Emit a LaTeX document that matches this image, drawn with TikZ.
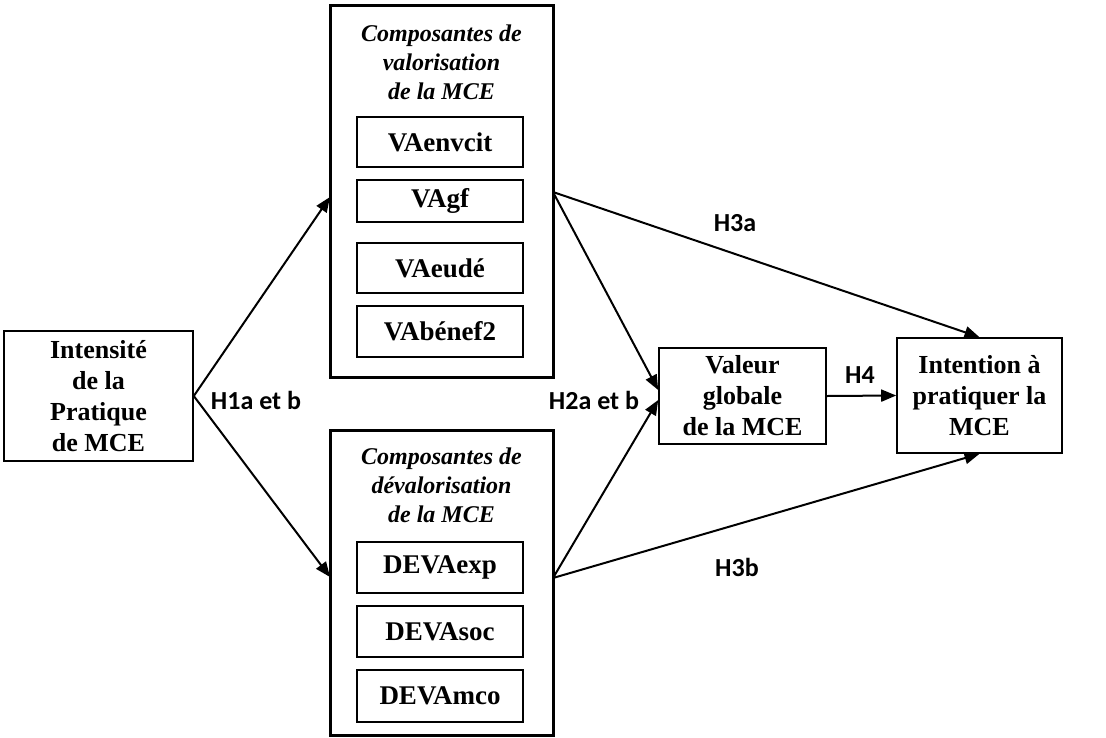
\documentclass[tikz,border=0pt]{standalone}
\usepackage{fontspec}
\setmainfont{Liberation Serif}
\newfontfamily\lblfont{Carlito}
\usetikzlibrary{arrows.meta}
\begin{document}
\begin{tikzpicture}[x=1pt,y=-1pt,
  box/.style={draw, line width=1.6pt, inner sep=0pt, align=center, font=\fontsize{26}{31}\selectfont\bfseries},
  group/.style={draw, line width=3pt, inner sep=0pt},
  inbox/.style={draw, line width=1.6pt, inner sep=0pt, minimum width=166pt, font=\fontsize{27}{30}\selectfont\bfseries},
  grptitle/.style={align=center, inner sep=0pt, font=\fontsize{24}{29}\selectfont\bfseries\itshape},
  hyp/.style={inner sep=0pt, font=\lblfont\bfseries\fontsize{26}{28}\selectfont},
  arr/.style={-{Triangle[length=15pt,width=12pt]}, line width=2pt}]
\useasboundingbox (0,0) rectangle (1106,737);
% left box
\node[box, minimum width=189pt, minimum height=130pt] (ipm) at (98.5,396) {Intensité\\de la\\Pratique\\de MCE};
% top group
\node[group, minimum width=223pt, minimum height=372pt] (gtop) at (441.5,191) {};
\node[grptitle] (ttop) at (441.5,62) {Composantes de\\valorisation\\de la MCE};
\node[inbox, minimum height=50pt] (va1) at (440,142) {VAenvcit};
\node[inbox, minimum height=42pt] (va2) at (440,201) {VAgf};
\node[inbox, minimum height=50pt] (va3) at (440,268) {VAeudé};
\node[inbox, minimum height=51pt] (va4) at (440,331.5) {VAbénef2};
% bottom group
\node[group, minimum width=223pt, minimum height=305pt] (gbot) at (441.5,582.5) {};
\node[grptitle] (tbot) at (441.5,485) {Composantes de\\dévalorisation\\de la MCE};
\node[inbox, minimum height=51pt] (de1) at (440,567.5) {DEVAexp};
\node[inbox, minimum height=51pt] (de2) at (440,631.5) {DEVAsoc};
\node[inbox, minimum height=52pt] (de3) at (440,696) {DEVAmco};
% right boxes
\node[box, minimum width=167pt, minimum height=96pt] (val) at (742.5,396) {Valeur\\globale\\de la MCE};
\node[box, minimum width=165pt, minimum height=115pt] (int) at (979.5,395.5) {Intention à\\pratiquer la\\MCE};
% border coordinates
\coordinate (tin) at (330,197);
\coordinate (bin) at (330,577);
\coordinate (tout) at (553,192);
\coordinate (bout) at (553,578);
% connectors
\draw[arr] (ipm.east) -- (tin);
\draw[arr] (ipm.east) -- (bin);
\draw[arr] (tout) -- (int.north);
\draw[arr] (tout) -- ([yshift=6pt]val.west);
\draw[arr] (bout) -- ([yshift=-4pt]val.west);
\draw[arr] (bout) -- (int.south);
\draw[arr] (val.east) -- (int.west);
% labels
\node[hyp] (h1) at (256,400) {H1a et b};
\node[hyp] (h2) at (594,400) {H2a et b};
\node[hyp] (h3a) at (735,223) {H3a};
\node[hyp] (h3b) at (737,567) {H3b};
\node[hyp] (h4) at (860,375) {H4};
\end{tikzpicture}
\end{document}
